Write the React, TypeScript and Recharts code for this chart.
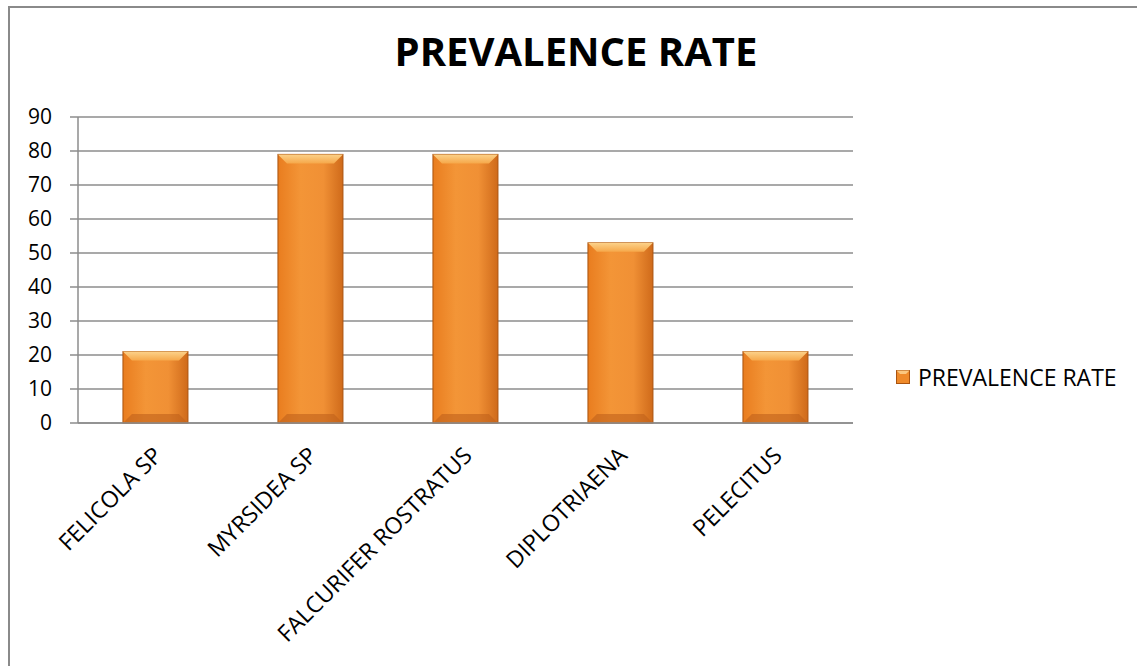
import React from "react";
import { Bar, BarChart, CartesianGrid, XAxis, YAxis } from "recharts";

const species = ["FELICOLA SP", "MYRSIDEA SP", "FALCURIFER ROSTRATUS", "DIPLOTRIAENA", "PELECITUS"];
const prevalence = [21, 79, 79, 53, 21];
const yTicks = [0, 10, 20, 30, 40, 50, 60, 70, 80, 90];
const boundaryTicks = [0, 1, 2, 3, 4, 5];
const seriesName = "PREVALENCE RATE";

const data = species.map((name, i) => ({ name, rate: prevalence[i] }));

const FONT = "'Open Sans', Lato, sans-serif";

function BevelBar(props: any) {
  const { x, y, width, height } = props;
  if (!height || height <= 0) return null;
  const b = Math.min(9, width / 6);
  return (
    <g>
      <rect x={x} y={y} width={width} height={height} fill="url(#barBody)" stroke="#a9530f" strokeWidth={1} />
      <polygon
        points={`${x},${y} ${x + width},${y} ${x + width - b},${y + b} ${x + b},${y + b}`}
        fill="url(#barTop)"
      />
      <polygon
        points={`${x},${y + height} ${x + width},${y + height} ${x + width - b},${y + height - b} ${x + b},${y + height - b}`}
        fill="#c0611a"
        opacity={0.6}
      />
    </g>
  );
}

function SpeciesTick(props: any) {
  const { x, y, payload } = props;
  const ax = x + 8;
  const ay = y + 26;
  return (
    <text
      x={ax}
      y={ay}
      transform={`rotate(-45, ${ax}, ${ay})`}
      textAnchor="end"
      fill="#000"
      fontSize={23}
      fontFamily={FONT}
    >
      {payload.value}
    </text>
  );
}

export default function App() {
  return (
    <div style={{ position: "absolute", left: 0, top: 0, width: 1137, height: 666, overflow: "hidden", background: "#fff" }}>
      <div
        style={{
          position: "absolute",
          left: 8,
          top: 6,
          width: 1160,
          height: 700,
          border: "2px solid #8a8a8a",
          boxSizing: "border-box",
        }}
      />
      <div
        style={{
          position: "absolute",
          left: 0,
          top: 26,
          width: 1152,
          textAlign: "center",
          fontFamily: FONT,
          fontWeight: 700,
          fontSize: 40,
          color: "#000",
          lineHeight: "50px",
        }}
      >
        PREVALENCE RATE
      </div>
      <div
        style={{
          position: "absolute",
          left: 896,
          top: 362,
          display: "flex",
          alignItems: "center",
          fontFamily: FONT,
          fontSize: 23,
          color: "#000",
          lineHeight: "30px",
        }}
      >
        <svg width={14} height={14} style={{ marginRight: 8 }}>
          <rect x={0.5} y={0.5} width={13} height={13} fill="#ef8a2a" stroke="#a9530f" />
          <polygon points="0.5,0.5 13.5,0.5 10,4 4,4" fill="#fbc77f" />
        </svg>
        <span>{seriesName}</span>
      </div>
      <div style={{ position: "absolute", left: 0, top: 0 }}>
        <BarChart
          width={1137}
          height={666}
          data={data}
          margin={{ top: 117, right: 284, bottom: 0, left: 18 }}
          barCategoryGap="29%"
        >
          <defs>
            <linearGradient id="barBody" x1="0" y1="0" x2="1" y2="0">
              <stop offset="0%" stopColor="#e97d1f" />
              <stop offset="35%" stopColor="#f39537" />
              <stop offset="70%" stopColor="#f09035" />
              <stop offset="100%" stopColor="#cf6a1a" />
            </linearGradient>
            <linearGradient id="barTop" x1="0" y1="0" x2="0" y2="1">
              <stop offset="0%" stopColor="#fcd28a" />
              <stop offset="100%" stopColor="#f6a84a" />
            </linearGradient>
          </defs>
          <CartesianGrid vertical={false} stroke="#8c8c8c" strokeWidth={1.5} />
          <XAxis
            xAxisId="edges"
            type="number"
            domain={[0, 5]}
            ticks={boundaryTicks}
            tick={false}
            tickSize={8}
            tickLine={{ stroke: "#8c8c8c", strokeWidth: 1.5 }}
            axisLine={false}
            height={0}
          />
          <XAxis
            dataKey="name"
            height={243}
            interval={0}
            tick={<SpeciesTick />}
            tickLine={false}
            axisLine={{ stroke: "#8c8c8c", strokeWidth: 1.5 }}
          />
          <YAxis
            width={60}
            domain={[0, 90]}
            ticks={yTicks}
            interval={0}
            tickSize={8}
            tickMargin={18}
            tick={{ fill: "#000", fontSize: 21, fontFamily: FONT }}
            tickLine={{ stroke: "#8c8c8c", strokeWidth: 1.5 }}
            axisLine={{ stroke: "#8c8c8c", strokeWidth: 1.5 }}
          />
          <Bar dataKey="rate" name={seriesName} shape={<BevelBar />} isAnimationActive={false} />
        </BarChart>
      </div>
    </div>
  );
}
